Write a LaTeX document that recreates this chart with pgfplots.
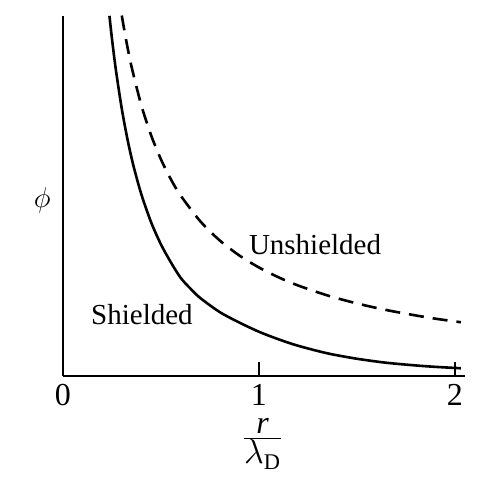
\documentclass[border=0pt]{standalone}
\usepackage{pgfplots}
\pgfplotsset{compat=1.18}
\usepackage{fontspec}
\setmainfont{Liberation Serif}

\newcommand{\lblfont}{\fontsize{14.5}{17}\selectfont}
\newcommand{\tickfont}{\fontsize{16}{19}\selectfont}

\begin{document}
\begin{tikzpicture}
\useasboundingbox (-31.5pt,-56.75pt) rectangle (207pt,187.75pt);
\begin{axis}[
    scale only axis,
    width=200.9pt,
    height=180pt,
    xmin=0, xmax=2.05,
    ymin=0, ymax=3.333,
    axis lines=left,
    axis line style={-, line width=1pt},
    xtick={0,1,2},
    xticklabels={0,1,2},
    ytick=\empty,
    xtick align=inside,
    major tick length=7pt,
    every tick/.style={black, line width=0.9pt},
    xticklabel style={font=\tickfont, yshift=-0.7pt},
    xlabel={$\frac{\textstyle\mathit{r}}{\textstyle\lambda_{\mathrm{D}}}$},
    xlabel style={font=\fontsize{16}{19}\selectfont, at={(axis description cs:0.497,-0.19)}, anchor=center},
    ylabel={$\phi$},
    ylabel style={font=\lblfont, rotate=-90, at={(axis description cs:-0.052,0.4875)}, anchor=center},
    clip=false,
]
% shielded potential
\addplot[black, line width=1.3pt, smooth] coordinates {
    (0.237,3.33) (0.25,3.115) (0.27,2.827) (0.30,2.469) (0.33,2.178)
    (0.36,1.938) (0.40,1.676) (0.45,1.417) (0.50,1.213) (0.55,1.049)
    (0.60,0.905) (0.65,0.805) (0.70,0.718) (0.80,0.587) (0.90,0.49)
    (1.00,0.405) (1.10,0.335) (1.20,0.275) (1.35,0.205) (1.50,0.155)
    (1.65,0.118) (1.80,0.093) (1.90,0.080) (2.03,0.067)
};
% unshielded potential
\addplot[black, line width=1.3pt, dash pattern=on 7.5pt off 4.5pt, smooth] coordinates {
    (0.300,3.333) (0.32,3.125) (0.35,2.857) (0.40,2.5) (0.45,2.222)
    (0.50,2.0) (0.55,1.818) (0.60,1.667) (0.70,1.429) (0.80,1.25)
    (0.90,1.111) (1.00,1.0) (1.10,0.909) (1.20,0.833) (1.35,0.741)
    (1.50,0.667) (1.65,0.606) (1.80,0.556) (1.90,0.526) (2.03,0.493)
};
\node[font=\lblfont, anchor=base] at (axis cs:0.403,0.468) {Shielded};
\node[font=\lblfont, anchor=base] at (axis cs:1.286,1.116) {Unshielded};
\end{axis}
\end{tikzpicture}
\end{document}
